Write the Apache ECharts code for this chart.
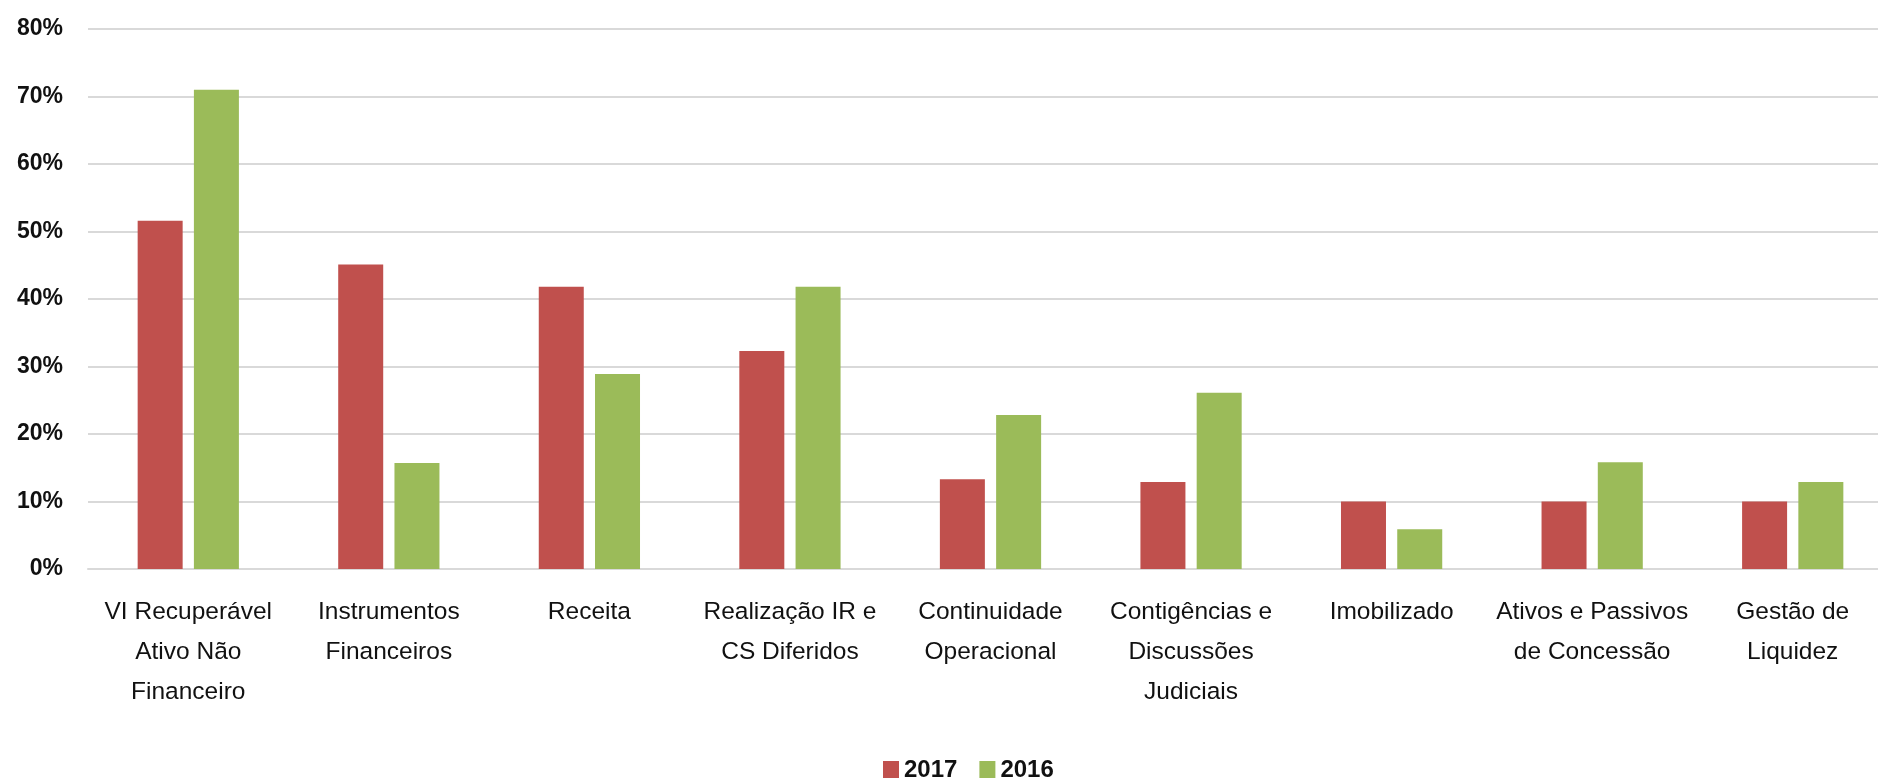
<!DOCTYPE html>
<html>
<head>
<meta charset="utf-8">
<title>2017 x 2016</title>
<script src="https://cdn.jsdelivr.net/npm/echarts@6/dist/echarts.min.js"></script>
<style>
  html, body { margin: 0; padding: 0; background: #fff; overflow: hidden; }
  /* plot runs past the right edge in the original, so the canvas is a bit wider than the window */
  #chart { width: 1893px; height: 778px; }
</style>
</head>
<body>
<div id="chart"></div>
<script>
'use strict';

var categories = [
   'VI Recuperável\nAtivo Não\nFinanceiro',
   'Instrumentos\nFinanceiros',
   'Receita',
   'Realização IR e\nCS Diferidos',
   'Continuidade\nOperacional',
   'Contigências e\nDiscussões\nJudiciais',
   'Imobilizado',
   'Ativos e Passivos\nde Concessão',
   'Gestão de\nLiquidez'
];
var seriesNames = ['2017', '2016'];
var values2017 = [51.6, 45.1, 41.8, 32.3, 13.3, 12.9, 10.0, 10.0, 10.0];
var values2016 = [71.0, 15.7, 28.9, 41.8, 22.8, 26.1, 5.9, 15.8, 12.9];
var yTicks = { min: 0, max: 80, interval: 10 };

(function () {
   var font = "'Liberation Sans', Arial, sans-serif";
   var myChart = echarts.init(document.getElementById('chart'));

   var option = {
      animation: false,
      color: ['#C0504D', '#9BBB59'],
      grid: { left: 88, top: 29, right: 0, bottom: 209, containLabel: false },
      legend: {
         data: seriesNames,
         left: 878,
         top: 753,
         itemWidth: 16,
         itemHeight: 18,
         itemGap: 22,
         icon: 'rect',
         textStyle: { fontFamily: font, fontSize: 24, fontWeight: 'bold', lineHeight: 20, color: '#111' }
      },
      xAxis: {
         type: 'category',
         data: categories,
         axisLine: { show: true, lineStyle: { color: '#d9d9d9', width: 2 } },
         axisTick: { show: false },
         axisLabel: {
            interval: 0,
            margin: 23,
            fontFamily: font,
            fontSize: 24.5,
            lineHeight: 40,
            color: '#111'
         }
      },
      yAxis: {
         type: 'value',
         min: yTicks.min,
         max: yTicks.max,
         interval: yTicks.interval,
         axisLine: { show: false },
         axisTick: { show: false },
         axisLabel: {
            formatter: '{value}%',
            margin: 25,
            fontFamily: font,
            fontSize: 23,
            fontWeight: 'bold',
            color: '#111'
         },
         splitLine: { lineStyle: { color: '#d9d9d9', width: 2 } }
      },
      series: [
         { name: seriesNames[0], type: 'bar', data: values2017, barWidth: 45, barGap: '25%' },
         { name: seriesNames[1], type: 'bar', data: values2016, barWidth: 45, barGap: '25%' }
      ]
   };

   myChart.setOption(option);
})();
</script>
</body>
</html>
